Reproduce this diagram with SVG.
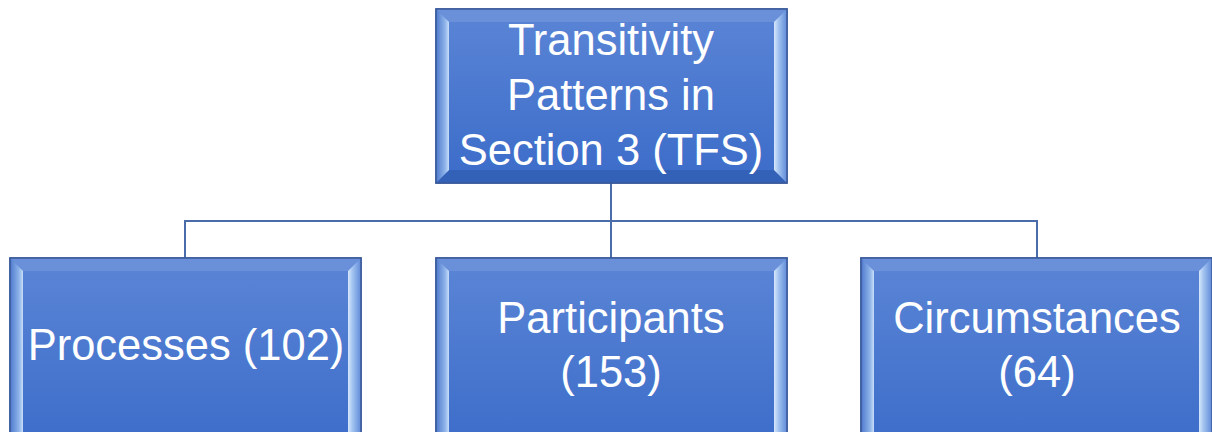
<svg xmlns="http://www.w3.org/2000/svg" width="1212" height="432" viewBox="0 0 1212 432">
  <defs>
    <linearGradient id="face" x1="0" y1="0" x2="0" y2="1">
      <stop offset="0" stop-color="#5b85d6"/>
      <stop offset="1" stop-color="#3b6cc9"/>
    </linearGradient>
    <linearGradient id="bevelL" x1="0" y1="0" x2="1" y2="0">
      <stop offset="0" stop-color="#4d79cc"/>
      <stop offset="0.7" stop-color="#8fb4ea"/>
      <stop offset="1" stop-color="#c9def8"/>
    </linearGradient>
    <linearGradient id="bevelR" x1="0" y1="0" x2="1" y2="0">
      <stop offset="0" stop-color="#d6e7fb"/>
      <stop offset="0.35" stop-color="#a2c3f0"/>
      <stop offset="1" stop-color="#5f8ad8"/>
    </linearGradient>
    <style>
      .edge { stroke: #3a5a9a; stroke-width: 1.5; }
      .face { fill: url(#face); }
      .top { fill: #6a90da; }
      .bottom { fill: #3461b8; }
      .left { fill: url(#bevelL); }
      .right { fill: url(#bevelR); }
      .label { font-family: "Liberation Sans", Arial, sans-serif; font-size: 43.5px; fill: #ffffff; text-anchor: middle; }
      .wire { fill: none; stroke: #4a6cab; stroke-width: 2; }
    </style>
  </defs>

  <rect width="1212" height="432" fill="#ffffff"/>

  <!-- connectors -->
  <g id="connectors">
    <path class="wire" d="M611 183 V221"/>
    <path class="wire" d="M185 258 V221 H1037 V258"/>
    <path class="wire" d="M611 221 V258"/>
  </g>

  <!-- root node -->
  <g id="root">
    <rect x="436" y="9" width="351" height="174" class="face edge"/>
    <polygon class="top" points="436,9 787,9 774,22 449,22"/>
    <polygon class="bottom" points="436,183 787,183 774,170 449,170"/>
    <polygon class="left" points="436,9 449,22 449,170 436,183"/>
    <polygon class="right" points="787,9 774,22 774,170 787,183"/>
    <rect x="436" y="9" width="351" height="174" fill="none" class="edge"/>
    <text class="label" x="611" y="55">Transitivity</text>
    <text class="label" x="611" y="110">Patterns in</text>
    <text class="label" x="611" y="165">Section 3 (TFS)</text>
  </g>

  <!-- child: processes -->
  <g id="processes">
    <rect x="10" y="258" width="351" height="195" class="face edge"/>
    <polygon class="top" points="10,258 361,258 348,271 23,271"/>
    <polygon class="left" points="10,258 23,271 23,440 10,453"/>
    <polygon class="right" points="361,258 348,271 348,440 361,453"/>
    <rect x="10" y="258" width="351" height="195" fill="none" class="edge"/>
    <text class="label" x="186" y="360">Processes (102)</text>
  </g>

  <!-- child: participants -->
  <g id="participants">
    <rect x="436" y="258" width="351" height="195" class="face edge"/>
    <polygon class="top" points="436,258 787,258 774,271 449,271"/>
    <polygon class="left" points="436,258 449,271 449,440 436,453"/>
    <polygon class="right" points="787,258 774,271 774,440 787,453"/>
    <rect x="436" y="258" width="351" height="195" fill="none" class="edge"/>
    <text class="label" x="611" y="333">Participants</text>
    <text class="label" x="611" y="387">(153)</text>
  </g>

  <!-- child: circumstances -->
  <g id="circumstances">
    <rect x="861" y="258" width="351" height="195" class="face edge"/>
    <polygon class="top" points="861,258 1212,258 1199,271 874,271"/>
    <polygon class="left" points="861,258 874,271 874,440 861,453"/>
    <polygon class="right" points="1212,258 1199,271 1199,440 1212,453"/>
    <rect x="861" y="258" width="351" height="195" fill="none" class="edge"/>
    <text class="label" x="1037" y="333">Circumstances</text>
    <text class="label" x="1037" y="387">(64)</text>
  </g>
</svg>
